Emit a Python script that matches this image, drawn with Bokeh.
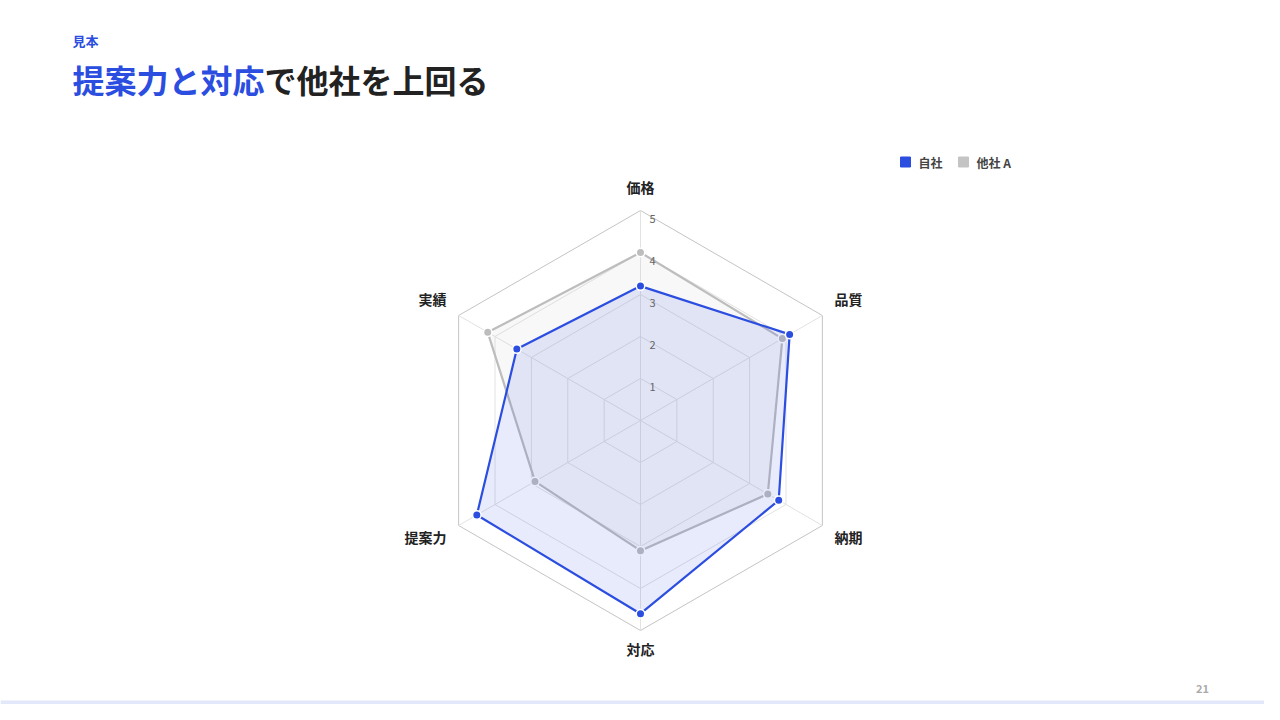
import numpy as np
from bokeh.plotting import figure
from bokeh.models import Range1d, ColumnDataSource
from bokeh.core.properties import value
from bokeh.embed import file_html
from bokeh.resources import INLINE

# ---------------- data ----------------
categories = ["価格", "品質", "納期", "対応", "提案力", "実績"]
jisha = [3.2, 4.1, 3.8, 4.6, 4.5, 3.4]
tasha_a = [4.0, 3.9, 3.5, 3.1, 2.9, 4.2]
series_names = ["自社", "他社 A"]
tick_values = [1, 2, 3, 4, 5]
tick_labels = ["1", "2", "3", "4", "5"]
r_max = 5
eyebrow = "見本"
title_blue = "提案力と対応"
title_black = "で他社を上回る"
page_no = "21"

# ---------------- style ----------------
FONT = "Noto Sans CJK JP"
BLUE = "#2b4de0"
GRAY = "#bdbdbd"
DARK = "#222222"

W, H = 1264, 704
p = figure(width=W, height=H, x_range=Range1d(0, W), y_range=Range1d(H, 0),
           output_backend="svg", toolbar_location=None, min_border=0,
           x_axis_location=None, y_axis_location=None)
p.xgrid.visible = False
p.ygrid.visible = False
p.outline_line_color = None
p.background_fill_color = "white"
p.border_fill_color = "white"

cx, cy, R = 640.0, 420.0, 210.0
n = len(categories)
ang = np.pi / 2 - np.arange(n) * 2 * np.pi / n


def poly(vals):
    r = np.asarray(vals, dtype=float) / r_max * R
    return cx + r * np.cos(ang), cy - r * np.sin(ang)


# grid rings
for t in tick_values:
    xs, ys = poly([t] * n)
    col = "#c4c4c4" if t == r_max else "#e2e2e2"
    p.line(list(xs) + [xs[0]], list(ys) + [ys[0]], line_color=col, line_width=1)

# spokes
ox, oy = poly([r_max] * n)
p.segment(x0=[cx] * n, y0=[cy] * n, x1=ox, y1=oy, line_color="#e2e2e2", line_width=1)

# series (gray first, blue on top)
for vals, col, fa in [(tasha_a, GRAY, 0.10), (jisha, BLUE, 0.11)]:
    xs, ys = poly(vals)
    p.patch(list(xs), list(ys), fill_color=col, fill_alpha=fa, line_color=None)
    p.line(list(xs) + [xs[0]], list(ys) + [ys[0]], line_color=col, line_width=2.2)
    p.scatter(xs, ys, marker="circle", size=8.5, fill_color=col,
              line_color="white", line_width=1.5)

# tick labels
tsrc = ColumnDataSource(dict(
    x=[cx + 12] * len(tick_values),
    y=[cy - t / r_max * R + 8 for t in tick_values],
    text=tick_labels))
p.text(x="x", y="y", text="text", source=tsrc, text_font=value(FONT),
       text_font_size=value("11px"), text_color="#666666",
       text_align="center", text_baseline="middle")

# category labels
lx, ly, la = [], [], []
for i, a in enumerate(ang):
    c, s = np.cos(a), np.sin(a)
    x = cx + (R + 14) * c
    y = cy - (R + 14) * s - 2
    if s > 0.01:
        y -= 8
    elif s < -0.01:
        y += 6
    lx.append(x)
    ly.append(y)
    la.append("left" if c > 0.01 else ("right" if c < -0.01 else "center"))
lsrc = ColumnDataSource(dict(x=lx, y=ly, text=categories, align=la))
p.text(x="x", y="y", text="text", text_align="align", source=lsrc,
       text_font=value(FONT), text_font_style="bold", text_font_size=value("14px"),
       text_color=DARK, text_baseline="middle")

# legend
leg_x = [905, 963]
leg_y = 161.5
p.scatter(leg_x, [leg_y] * 2, marker="square", size=10,
          fill_color=[BLUE, "#c4c4c4"], line_color=[BLUE, "#c4c4c4"], line_width=1,
          line_join="round")
p.text(x=[x + 13 for x in leg_x], y=[leg_y] * 2, text=series_names,
       text_font=value(FONT), text_font_style="bold", text_font_size=value("12px"),
       text_color="#444444", text_baseline="middle", text_align="left")

# header
p.text(x=[72], y=[39.5], text=[eyebrow], text_font=value(FONT), text_font_style="bold",
       text_font_size=value("13px"), text_color=BLUE, text_baseline="middle")
p.text(x=[72], y=[78], text=[title_blue], text_font=value(FONT), text_font_style="bold",
       text_font_size=value("32px"), text_color=BLUE, text_baseline="middle")
p.text(x=[72 + 32 * len(title_blue)], y=[78], text=[title_black], text_font=value(FONT),
       text_font_style="bold", text_font_size=value("32px"), text_color=DARK,
       text_baseline="middle")

# page number
p.text(x=[1202], y=[688], text=[page_no], text_font=value(FONT), text_font_style="bold",
       text_font_size=value("11px"), text_color="#aaaaaa", text_baseline="middle",
       text_align="center")

# bottom bar
p.quad(left=[0], right=[W], top=[H - 4], bottom=[H], fill_color="#e3e7fa",
       line_color=None)

open("out.html", "w").write(file_html(p, INLINE))
